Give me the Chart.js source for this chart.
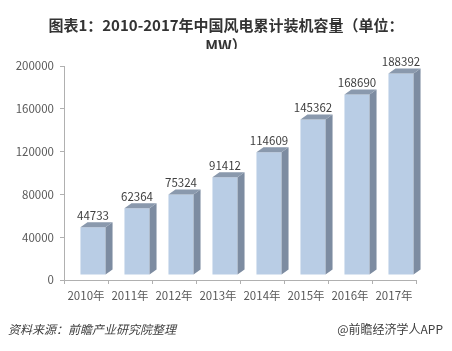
<!DOCTYPE html>
<html>
<head>
<meta charset="utf-8">
<script src="https://cdn.jsdelivr.net/npm/chart.js@4/dist/chart.umd.min.js"></script>
<style>
    html, body { margin: 0; padding: 0; background: #fff; }
    #wrap { position: relative; width: 452px; height: 351px; overflow: hidden; }
    #chart { position: absolute; left: 0; top: 0; }
    .title {
        position: absolute; left: 0; width: 452px; top: 15px; height: 34px;
        overflow: hidden; text-align: center;
        font: bold 15px "Noto Sans CJK SC", sans-serif; line-height: 20px; color: #333;
    }
    .source {
        position: absolute; left: 8px; top: 320px;
        font: italic 12px "Noto Sans CJK SC", sans-serif; color: #404040;
    }
    .brand {
        position: absolute; right: 9px; top: 320px;
        font: 12px "Noto Sans CJK SC", sans-serif; color: #404040;
    }
</style>
</head>
<body>
<div id="wrap">
    <canvas id="chart" width="452" height="351"></canvas>
    <div class="title">图表1：2010-2017年中国风电累计装机容量（单位：<br>MW）</div>
    <div class="source">资料来源：前瞻产业研究院整理</div>
    <div class="brand">@前瞻经济学人APP</div>
</div>
<script>
const years = ['2010年', '2011年', '2012年', '2013年', '2014年', '2015年', '2016年', '2017年'];
const capacity = [44733, 62364, 75324, 91412, 114609, 145362, 168690, 188392];
const yTicks = [0, 40000, 80000, 120000, 160000, 200000];

// 3D look: front face shifted, side and top drawn behind it
const DX = 7;
const DY = -5;
const DEPTH_X = 7;
const DEPTH_Y = 5;

const bars3d = {
    id: 'bars3d',
    beforeDatasetsDraw(chart) {
        chart.ctx.save();
        chart.ctx.translate(DX, DY);
    },
    afterDatasetsDraw(chart) {
        const ctx = chart.ctx;
        ctx.restore();
        const meta = chart.getDatasetMeta(0);
        meta.data.forEach((el, i) => {
            const l = el.x - el.width / 2 + DX;
            const r = el.x + el.width / 2 + DX;
            const t = el.y + DY;
            const b = el.base + DY;

            ctx.fillStyle = '#7d8ca1';
            ctx.beginPath();
            ctx.moveTo(r, t);
            ctx.lineTo(r + DEPTH_X, t - DEPTH_Y);
            ctx.lineTo(r + DEPTH_X, b - DEPTH_Y);
            ctx.lineTo(r, b);
            ctx.closePath();
            ctx.fill();

            ctx.fillStyle = '#8a99ad';
            ctx.beginPath();
            ctx.moveTo(l, t);
            ctx.lineTo(l + DEPTH_X, t - DEPTH_Y);
            ctx.lineTo(r + DEPTH_X, t - DEPTH_Y);
            ctx.lineTo(r, t);
            ctx.closePath();
            ctx.fill();

            ctx.fillStyle = '#404040';
            ctx.font = '11.5px "Noto Sans CJK SC", sans-serif';
            ctx.textAlign = 'center';
            ctx.textBaseline = 'bottom';
            ctx.fillText(String(capacity[i]), (l + r) / 2, t - DEPTH_Y - 1);
        });
    },
};

new Chart(document.getElementById('chart'), {
    type: 'bar',
    data: {
        labels: years,
        datasets: [
            {
                data: capacity,
                backgroundColor: '#b9cde5',
                borderWidth: 0,
                barPercentage: 0.57,
                categoryPercentage: 1,
            },
        ],
    },
    options: {
        responsive: false,
        animation: false,
        layout: { padding: { top: 66, right: 36, left: 0, bottom: 0 } },
        scales: {
            x: {
                offset: true,
                grid: {
                    offset: true,
                    drawOnChartArea: false,
                    tickLength: 4,
                    color: '#b0b0b0',
                },
                border: { color: '#b0b0b0' },
                ticks: {
                    color: '#595959',
                    padding: 5,
                    maxRotation: 0,
                    font: { family: '"Noto Sans CJK SC", sans-serif', size: 11.5 },
                },
                afterFit: (scale) => { scale.height = 71; },
            },
            y: {
                min: 0,
                max: 200000,
                afterBuildTicks: (scale) => {
                    scale.ticks = yTicks.map((v) => ({ value: v }));
                },
                grid: {
                    drawOnChartArea: false,
                    tickLength: 4,
                    color: '#b0b0b0',
                },
                border: { color: '#b0b0b0' },
                ticks: {
                    color: '#595959',
                    padding: 6,
                    callback: (value) => String(value),
                    font: { family: '"Noto Sans CJK SC", sans-serif', size: 11.5 },
                },
                afterFit: (scale) => { scale.width = 64; },
            },
        },
        plugins: {
            legend: { display: false },
            tooltip: { enabled: false },
        },
    },
    plugins: [bars3d],
});
</script>
</body>
</html>
